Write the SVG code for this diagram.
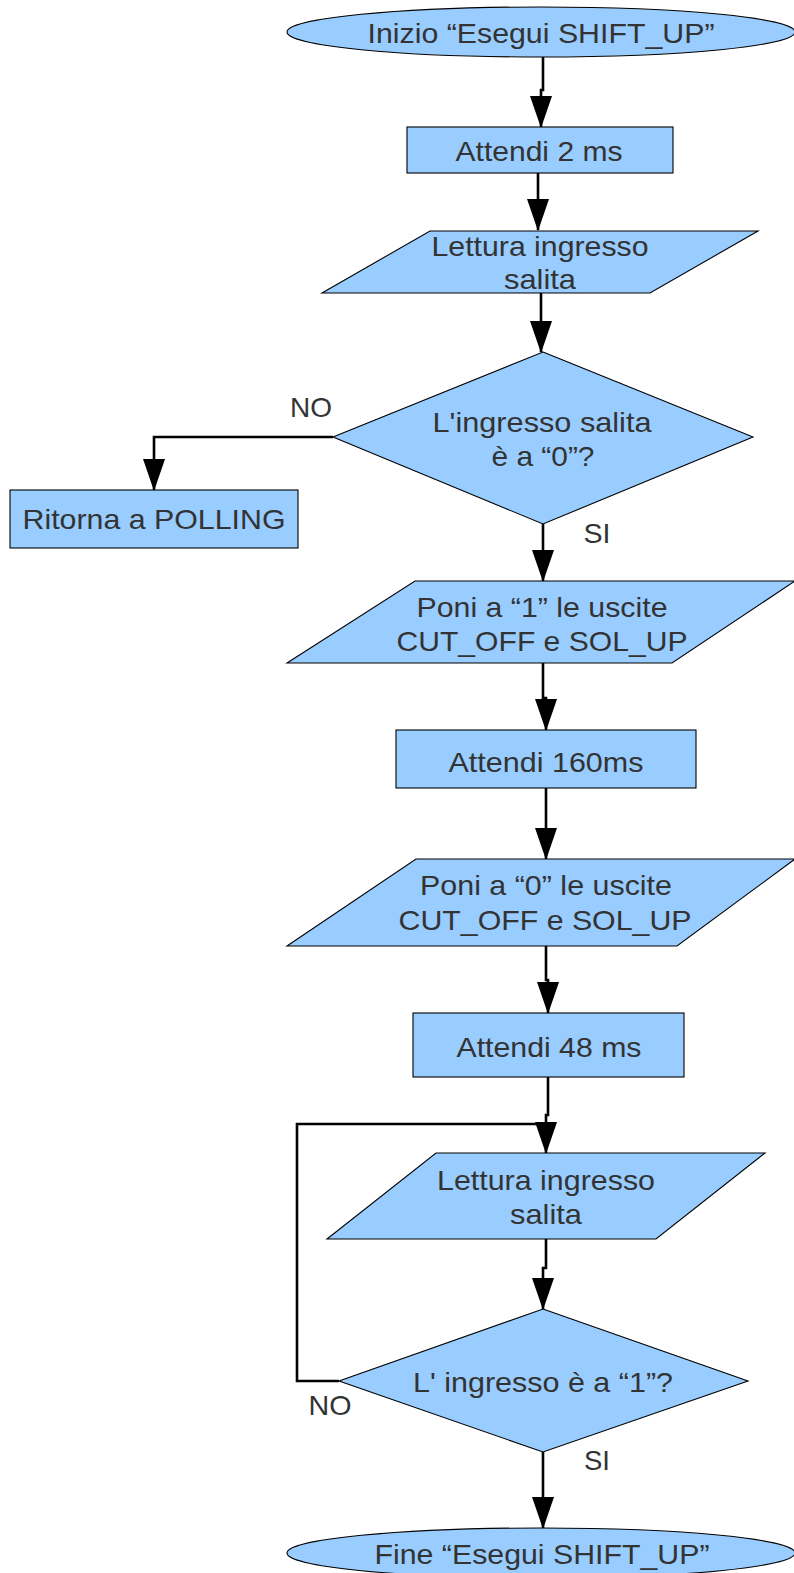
<svg xmlns="http://www.w3.org/2000/svg" width="794" height="1573" viewBox="0 0 794 1573">
<defs>
<style>
.n{fill:#99ccff;stroke:#000;stroke-width:1.1}
.t{font-family:"Liberation Sans",Arial,sans-serif;font-size:28.5px;fill:#333;text-anchor:middle}
.c{fill:none;stroke:#000;stroke-width:2.6}
.a{marker-end:url(#ah)}
</style>
<marker id="ah" viewBox="0 0 32 22" markerWidth="32" markerHeight="22" refX="31" refY="11" orient="auto" markerUnits="userSpaceOnUse">
<path d="M0,0 L32,11 L0,22 z" fill="#000"/>
</marker>
</defs>
<rect width="794" height="1573" fill="#fff"/>
<g id="connectors">
<path class="c a" d="M543,57 V90 H541 V127"/>
<path class="c a" d="M538,173 V230"/>
<path class="c a" d="M541,293 V352"/>
<path class="c a" d="M333,437 H154 V490"/>
<path class="c a" d="M543,524 V581"/>
<path class="c a" d="M543,663 V698 H546 V730"/>
<path class="c a" d="M546,788 V859"/>
<path class="c a" d="M546,946 V980 H548 V1013"/>
<path class="c a" d="M548,1075 V1115 H546 V1153"/>
<path class="c" d="M339,1381 H297 V1124 H540"/>
<path class="c a" d="M546,1239 V1268 H543 V1309"/>
<path class="c a" d="M543,1452 V1528"/>
</g>
<g id="start">
<ellipse class="n" cx="541" cy="32" rx="254" ry="25"/>
<text class="t" x="541" y="43" textLength="347" lengthAdjust="spacingAndGlyphs">Inizio “Esegui SHIFT_UP”</text>
</g>
<g id="wait2">
<rect class="n" x="407" y="127" width="266" height="46"/>
<text class="t" x="539" y="161" textLength="167" lengthAdjust="spacingAndGlyphs">Attendi 2 ms</text>
</g>
<g id="read1">
<polygon class="n" points="430,231 758,231 650,293 322,293"/>
<text class="t" x="540" y="256" textLength="217" lengthAdjust="spacingAndGlyphs">Lettura ingresso</text>
<text class="t" x="540" y="289" textLength="72" lengthAdjust="spacingAndGlyphs">salita</text>
</g>
<g id="check0">
<polygon class="n" points="543,352 753,437 543,524 333,437"/>
<text class="t" x="542" y="432" textLength="219" lengthAdjust="spacingAndGlyphs">L'ingresso salita</text>
<text class="t" x="543" y="466" textLength="103" lengthAdjust="spacingAndGlyphs">è a “0”?</text>
<text class="t" x="311" y="417" textLength="42" lengthAdjust="spacingAndGlyphs">NO</text>
<text class="t" x="597" y="543" textLength="27" lengthAdjust="spacingAndGlyphs">SI</text>
</g>
<g id="polling">
<rect class="n" x="10" y="490" width="288" height="58"/>
<text class="t" x="154" y="529" textLength="263" lengthAdjust="spacingAndGlyphs">Ritorna a POLLING</text>
</g>
<g id="set1">
<polygon class="n" points="415,581 795,581 672,663 287,663"/>
<text class="t" x="542" y="617" textLength="251" lengthAdjust="spacingAndGlyphs">Poni a “1” le uscite</text>
<text class="t" x="542" y="651" textLength="291" lengthAdjust="spacingAndGlyphs">CUT_OFF e SOL_UP</text>
</g>
<g id="wait160">
<rect class="n" x="396" y="730" width="300" height="58"/>
<text class="t" x="546" y="772" textLength="195" lengthAdjust="spacingAndGlyphs">Attendi 160ms</text>
</g>
<g id="set0">
<polygon class="n" points="416,859 795,859 677,946 287,946"/>
<text class="t" x="546" y="895" textLength="252" lengthAdjust="spacingAndGlyphs">Poni a “0” le uscite</text>
<text class="t" x="545" y="930" textLength="293" lengthAdjust="spacingAndGlyphs">CUT_OFF e SOL_UP</text>
</g>
<g id="wait48">
<rect class="n" x="413" y="1013" width="271" height="64"/>
<text class="t" x="549" y="1057" textLength="185" lengthAdjust="spacingAndGlyphs">Attendi 48 ms</text>
</g>
<g id="read2">
<polygon class="n" points="436,1153 765,1153 656,1239 327,1239"/>
<text class="t" x="546" y="1190" textLength="218" lengthAdjust="spacingAndGlyphs">Lettura ingresso</text>
<text class="t" x="546" y="1224" textLength="72" lengthAdjust="spacingAndGlyphs">salita</text>
</g>
<g id="check1">
<polygon class="n" points="543,1309 748,1381 543,1452 339,1381"/>
<text class="t" x="543" y="1392" textLength="260" lengthAdjust="spacingAndGlyphs">L' ingresso è a “1”?</text>
<text class="t" x="330" y="1415" textLength="43" lengthAdjust="spacingAndGlyphs">NO</text>
<text class="t" x="597" y="1470" textLength="26" lengthAdjust="spacingAndGlyphs">SI</text>
</g>
<g id="end">
<ellipse class="n" cx="541" cy="1553" rx="254" ry="25"/>
<text class="t" x="542" y="1564" textLength="335" lengthAdjust="spacingAndGlyphs">Fine “Esegui SHIFT_UP”</text>
</g>
</svg>
